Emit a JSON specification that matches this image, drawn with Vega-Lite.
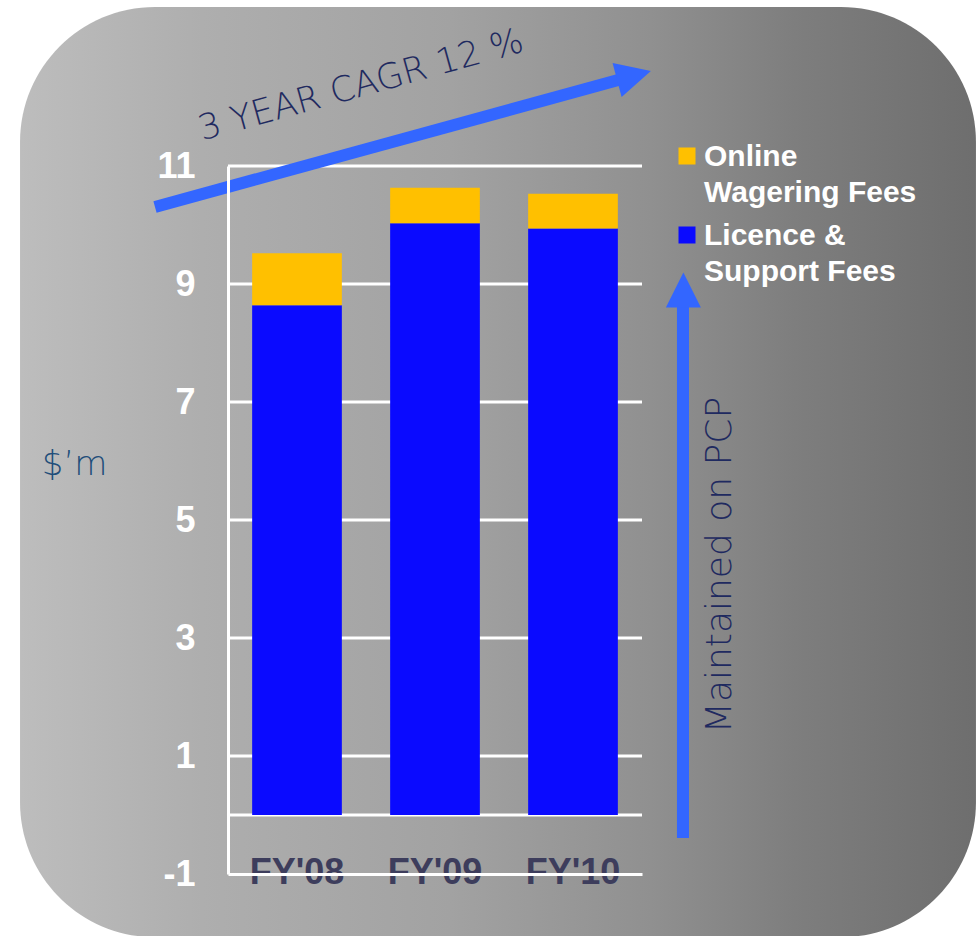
{
  "$schema": "https://vega.github.io/schema/vega-lite/v6.json",
  "width": 414,
  "height": 708,
  "autosize": {"type": "none"},
  "padding": {"left": 228, "top": 166, "right": 334, "bottom": 62},
  "background": "white",
  "config": {"view": {"stroke": null}},
  "resolve": {"scale": {"x": "independent"}, "axis": {"y": "independent"}},
  "layer": [
    {
      "data": {"values": [{}]},
      "mark": {
        "type": "rect",
        "cornerRadius": 135,
        "fill": {
          "gradient": "linear",
          "x1": 0, "y1": 0, "x2": 1, "y2": 0,
          "stops": [
            {"offset": 0, "color": "#bdbdbd"},
            {"offset": 0.19, "color": "#aeaeae"},
            {"offset": 0.45, "color": "#a2a2a2"},
            {"offset": 0.66, "color": "#909090"},
            {"offset": 0.81, "color": "#7e7e7e"},
            {"offset": 1, "color": "#6e6e6e"}
          ]
        }
      },
      "encoding": {
        "x": {"datum": -1.007, "type": "quantitative", "scale": {"domain": [0.5, 3.5], "nice": false, "zero": false}, "axis": null},
        "x2": {"datum": 5.92},
        "y": {"datum": 13.695, "type": "quantitative", "scale": {"domain": [-1, 11], "nice": false, "zero": false}, "axis": null},
        "y2": {"datum": -2.07}
      }
    },
    {
      "data": {"values": [{"g": 0}, {"g": 1}, {"g": 3}, {"g": 5}, {"g": 7}, {"g": 9}, {"g": 11}]},
      "mark": {"type": "rule", "color": "white", "strokeWidth": 3},
      "encoding": {
        "y": {"field": "g", "type": "quantitative", "scale": {"domain": [-1, 11], "nice": false, "zero": false}, "axis": null}
      }
    },
    {
      "data": {
        "values": [
          {"year": "FY'08", "series": "Licence & Support Fees", "value": 8.64},
          {"year": "FY'08", "series": "Online Wagering Fees", "value": 0.88},
          {"year": "FY'09", "series": "Licence & Support Fees", "value": 10.03},
          {"year": "FY'09", "series": "Online Wagering Fees", "value": 0.60},
          {"year": "FY'10", "series": "Licence & Support Fees", "value": 9.94},
          {"year": "FY'10", "series": "Online Wagering Fees", "value": 0.59}
        ]
      },
      "mark": {"type": "bar"},
      "encoding": {
        "x": {
          "field": "year", "type": "nominal", "sort": null,
          "scale": {"paddingInner": 0.35, "paddingOuter": 0.175},
          "axis": {
            "title": null, "labelAngle": 0, "ticks": false, "tickSize": 0,
            "domainColor": "white", "domainWidth": 3,
            "labelColor": "#3d3d5c", "labelFont": "Liberation Sans", "labelFontWeight": "bold",
            "labelFontSize": 36, "labelBaseline": "alphabetic", "labelPadding": 9, "zindex": 1
          }
        },
        "y": {
          "field": "value", "type": "quantitative", "stack": "zero",
          "scale": {"domain": [-1, 11], "nice": false, "zero": false},
          "axis": {
            "values": [-1, 1, 3, 5, 7, 9, 11], "title": null, "grid": false,
            "labelExpr": "'' + datum.value",
            "ticks": false, "tickSize": 0, "domainColor": "white", "domainWidth": 3,
            "labelColor": "white", "labelFont": "Liberation Sans", "labelFontWeight": "bold",
            "labelFontSize": 36, "labelPadding": 33, "zindex": 1
          }
        },
        "color": {
          "field": "series", "type": "nominal",
          "scale": {"domain": ["Online Wagering Fees", "Licence & Support Fees"], "range": ["#FFC000", "#0A0AFF"]},
          "legend": {
            "title": null, "orient": "none", "legendX": 444, "legendY": -25, "padding": 0,
            "symbolType": "square", "symbolSize": 289, "symbolStrokeWidth": 0,
            "labelColor": "white", "labelFont": "Liberation Sans", "labelFontWeight": "bold",
            "labelFontSize": 30, "labelLimit": 400, "labelOffset": 2, "rowPadding": 12,
            "labelBaseline": "alphabetic",
            "labelExpr": "datum.label == 'Online Wagering Fees' ? ['Online', 'Wagering Fees'] : ['Licence &', 'Support Fees']",
            "encode": {"labels": {"update": {"dy": {"value": 10}, "lineHeight": {"value": 36}}}}
          }
        },
        "order": {"field": "series", "sort": "ascending"}
      }
    },
    {
      "data": {"values": [{}]},
      "layer": [
        {
          "mark": {"type": "rule", "color": "#3366FF", "strokeWidth": 12},
          "encoding": {
            "x": {"datum": -0.029, "type": "quantitative", "scale": {"domain": [0.5, 3.5], "nice": false, "zero": false}, "axis": null},
            "x2": {"datum": 3.341},
            "y": {"datum": 10.305, "type": "quantitative", "scale": {"domain": [-1, 11], "nice": false, "zero": false}, "axis": null},
            "y2": {"datum": 12.466}
          }
        },
        {
          "mark": {"type": "point", "shape": "M1,0L-1,-1L-1,1Z", "filled": true, "size": 1225, "angle": -15, "color": "#3366FF", "opacity": 1},
          "encoding": {
            "x": {"datum": 3.442, "type": "quantitative", "scale": {"domain": [0.5, 3.5], "nice": false, "zero": false}, "axis": null},
            "y": {"datum": 12.534, "type": "quantitative", "scale": {"domain": [-1, 11], "nice": false, "zero": false}, "axis": null}
          }
        },
        {
          "mark": {"type": "rule", "color": "#3366FF", "strokeWidth": 12},
          "encoding": {
            "x": {"datum": 3.797, "type": "quantitative", "scale": {"domain": [0.5, 3.5], "nice": false, "zero": false}, "axis": null},
            "y": {"datum": -0.39, "type": "quantitative", "scale": {"domain": [-1, 11], "nice": false, "zero": false}, "axis": null},
            "y2": {"datum": 8.73}
          }
        },
        {
          "mark": {"type": "point", "shape": "M1,0L-1,-1L-1,1Z", "filled": true, "size": 1225, "angle": -90, "color": "#3366FF", "opacity": 1},
          "encoding": {
            "x": {"datum": 3.80, "type": "quantitative", "scale": {"domain": [0.5, 3.5], "nice": false, "zero": false}, "axis": null},
            "y": {"datum": 8.90, "type": "quantitative", "scale": {"domain": [-1, 11], "nice": false, "zero": false}, "axis": null}
          }
        },
        {
          "mark": {"type": "text", "text": "3 YEAR CAGR 12 %", "font": "DejaVu Sans", "fontWeight": 200, "fontSize": 35, "color": "#1f2a60", "angle": -15.5, "align": "center", "baseline": "middle"},
          "encoding": {
            "x": {"datum": 1.464, "type": "quantitative", "scale": {"domain": [0.5, 3.5], "nice": false, "zero": false}, "axis": null},
            "y": {"datum": 12.37, "type": "quantitative", "scale": {"domain": [-1, 11], "nice": false, "zero": false}, "axis": null}
          }
        },
        {
          "mark": {"type": "text", "text": "Maintained on PCP", "font": "DejaVu Sans", "fontWeight": 200, "fontSize": 36, "color": "#1f2a60", "angle": -90, "align": "center", "baseline": "middle"},
          "encoding": {
            "x": {"datum": 4.065, "type": "quantitative", "scale": {"domain": [0.5, 3.5], "nice": false, "zero": false}, "axis": null},
            "y": {"datum": 4.237, "type": "quantitative", "scale": {"domain": [-1, 11], "nice": false, "zero": false}, "axis": null}
          }
        },
        {
          "mark": {"type": "text", "text": "$’m", "font": "DejaVu Sans", "fontWeight": 200, "fontSize": 34, "color": "#1f4e7a", "align": "center", "baseline": "middle"},
          "encoding": {
            "x": {"datum": -0.612, "type": "quantitative", "scale": {"domain": [0.5, 3.5], "nice": false, "zero": false}, "axis": null},
            "y": {"datum": 5.93, "type": "quantitative", "scale": {"domain": [-1, 11], "nice": false, "zero": false}, "axis": null}
          }
        }
      ]
    }
  ]
}
